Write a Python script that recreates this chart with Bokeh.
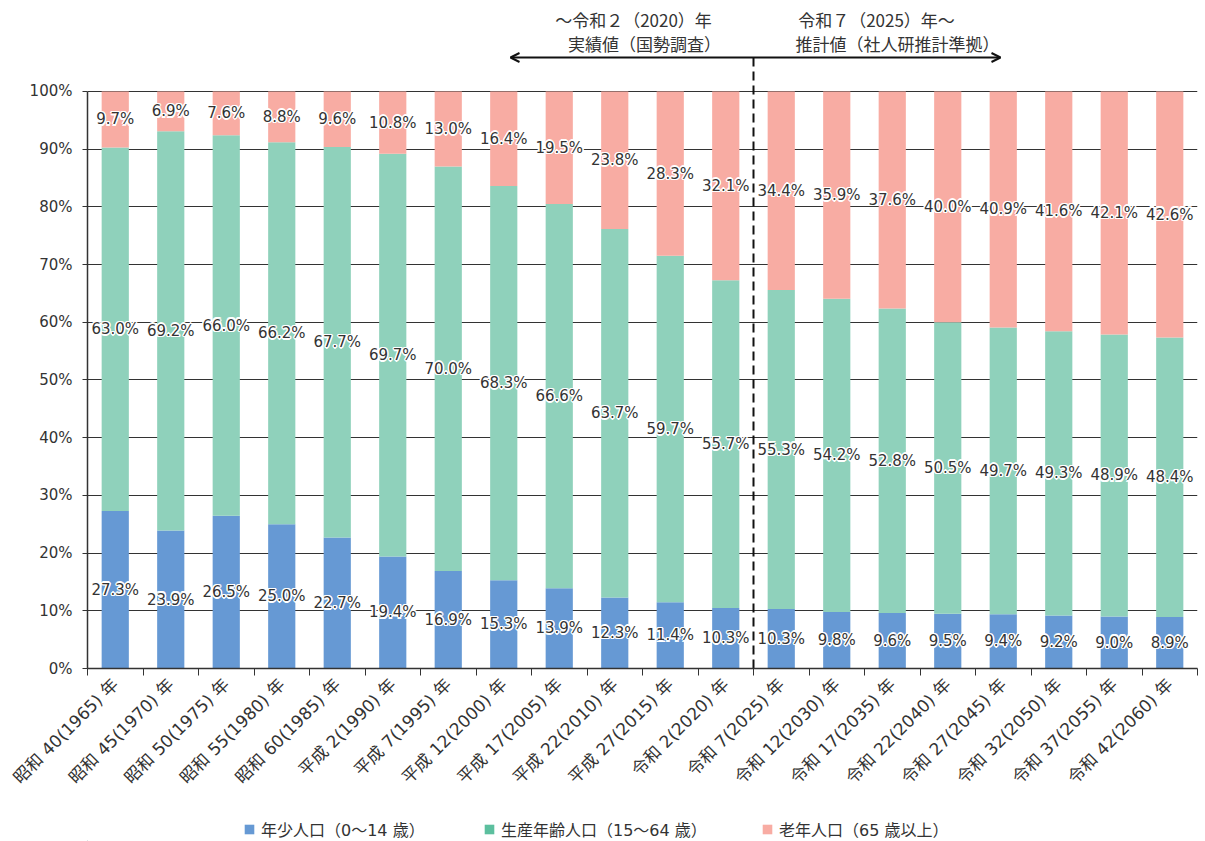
import numpy as np
from bokeh.plotting import figure
from bokeh.layouts import column
from bokeh.models import Range1d, FixedTicker, Arrow, OpenHead, Legend, LegendItem, ColumnDataSource
from bokeh.core.properties import value
from bokeh.embed import file_html
from bokeh.resources import INLINE

categories = ["昭和 40(1965) 年", "昭和 45(1970) 年", "昭和 50(1975) 年", "昭和 55(1980) 年",
              "昭和 60(1985) 年", "平成 2(1990) 年", "平成 7(1995) 年", "平成 12(2000) 年",
              "平成 17(2005) 年", "平成 22(2010) 年", "平成 27(2015) 年", "令和 2(2020) 年",
              "令和 7(2025) 年", "令和 12(2030) 年", "令和 17(2035) 年", "令和 22(2040) 年",
              "令和 27(2045) 年", "令和 32(2050) 年", "令和 37(2055) 年", "令和 42(2060) 年"]
young = [27.3, 23.9, 26.5, 25.0, 22.7, 19.4, 16.9, 15.3, 13.9, 12.3, 11.4, 10.3,
         10.3, 9.8, 9.6, 9.5, 9.4, 9.2, 9.0, 8.9]
working = [63.0, 69.2, 66.0, 66.2, 67.7, 69.7, 70.0, 68.3, 66.6, 63.7, 59.7, 55.7,
           55.3, 54.2, 52.8, 50.5, 49.7, 49.3, 48.9, 48.4]
old = [9.7, 6.9, 7.6, 8.8, 9.6, 10.8, 13.0, 16.4, 19.5, 23.8, 28.3, 32.1,
       34.4, 35.9, 37.6, 40.0, 40.9, 41.6, 42.1, 42.6]
series_names = ["年少人口（0～14 歳）", "生産年齢人口（15～64 歳）", "老年人口（65 歳以上）"]
y_ticks = [0, 10, 20, 30, 40, 50, 60, 70, 80, 90, 100]
y_tick_labels = [f"{t}%" for t in y_ticks]
note_left = ["～令和２（2020）年", "実績値（国勢調査）"]
note_right = ["令和７（2025）年～", "推計値（社人研推計準拠）"]
split_index = 12

FONT = "Noto Sans CJK JP"
MIX = "'DejaVu Sans', 'Noto Sans CJK JP'"
C_BLUE = "#6699d4"
C_GREEN = "#8fd1bb"
C_PINK = "#f8aca3"
C_GREEN_LEG = "#5cbf9e"
TXT = "#333333"

n = len(categories)
xs = np.arange(n) + 0.5
a = np.array(young)
b = np.array(working)
c = np.array(old)
tot = a + b + c
# 100% stacked: each column normalised to its total
y1 = a / tot * 100
y2 = (a + b) / tot * 100
y3 = (a + b + c) / tot * 100

MAIN_H = 800
p = figure(width=1205, height=MAIN_H, x_range=Range1d(0, n), y_range=Range1d(0, 115.77),
           output_backend="svg", toolbar_location=None,
           min_border_left=87, min_border_right=8, min_border_top=0,
           min_border_bottom=MAIN_H - 668)
p.outline_line_color = None

# grid
p.xgrid.visible = False
p.ygrid.ticker = FixedTicker(ticks=y_ticks)
p.ygrid.grid_line_color = "#333333"
p.ygrid.grid_line_width = 1.2
p.ygrid.bounds = (0, 100)

# y axis
p.yaxis.ticker = FixedTicker(ticks=y_ticks)
p.yaxis.major_label_overrides = {t: l for t, l in zip(y_ticks, y_tick_labels)}
p.yaxis.bounds = (0, 100)
p.yaxis.axis_line_color = "#333333"
p.yaxis.axis_line_width = 1.5
p.yaxis.major_tick_out = 5
p.yaxis.major_tick_in = 0
p.yaxis.major_tick_line_color = "#333333"
p.yaxis.minor_tick_line_color = None
p.yaxis.major_label_text_font = MIX
p.yaxis.major_label_text_font_size = "15px"
p.yaxis.major_label_text_color = TXT
p.yaxis.major_label_standoff = 10

# x axis
p.xaxis.ticker = FixedTicker(ticks=list(xs), minor_ticks=list(range(0, n + 1)))
p.xaxis.major_label_overrides = {float(x): t for x, t in zip(xs, categories)}
p.xaxis.major_label_orientation = np.pi / 4
p.xaxis.major_tick_line_color = None
p.xaxis.minor_tick_line_color = "#333333"
p.xaxis.minor_tick_out = 7
p.xaxis.minor_tick_in = 0
p.xaxis.axis_line_color = "#333333"
p.xaxis.axis_line_width = 1.5
p.xaxis.major_label_text_font = MIX
p.xaxis.major_label_text_font_size = "17px"
p.xaxis.major_label_text_color = TXT
p.xaxis.major_label_standoff = 6

# bars
src = ColumnDataSource(dict(x=xs, y1=y1, y2=y2, y3=y3))
W = 0.49
p.vbar(x="x", width=W, bottom=0, top="y1", source=src, fill_color=C_BLUE, line_color=None)
p.vbar(x="x", width=W, bottom="y1", top="y2", source=src, fill_color=C_GREEN, line_color=None)
p.vbar(x="x", width=W, bottom="y2", top="y3", source=src, fill_color=C_PINK, line_color=None)

# data labels with white halo
lab_x = np.concatenate([xs, xs, xs])
lab_y = np.concatenate([y1 / 2, (y1 + y2) / 2, (y2 + y3) / 2])
lab_t = [f"{v:.1f}%" for v in young] + [f"{v:.1f}%" for v in working] + [f"{v:.1f}%" for v in old]
lsrc = ColumnDataSource(dict(x=lab_x, y=lab_y, t=lab_t))
for dx, dy in [(-1.5, 0), (1.5, 0), (0, -1.5), (0, 1.5), (-1.1, -1.1), (1.1, 1.1), (-1.1, 1.1), (1.1, -1.1)]:
    p.text(x="x", y="y", text="t", source=lsrc, text_align="center", text_baseline="middle",
           text_font=value(MIX), text_font_size="15px", text_color="white",
           x_offset=dx, y_offset=dy)
p.text(x="x", y="y", text="t", source=lsrc, text_align="center", text_baseline="middle",
       text_font=value(MIX), text_font_size="15px", text_color=TXT)

# split line + arrow + notes
ppu = 577 / 100.0
arrow_y = (668 - 57) / ppu
p.segment(x0=[split_index], y0=[0], x1=[split_index], y1=[arrow_y],
          line_color="#111111", line_width=2, line_dash="9 5")
p.add_layout(Arrow(start=OpenHead(size=9, line_width=2, line_color="#111111"),
                   end=OpenHead(size=9, line_width=2, line_color="#111111"),
                   x_start=(510 - 87) / 55.5, y_start=arrow_y,
                   x_end=(1000 - 87) / 55.5, y_end=arrow_y,
                   line_width=2, line_color="#111111"))
ny1 = (668 - 19) / ppu
ny2 = (668 - 43) / ppu
p.text(x=[(633 - 87) / 55.5, (644 - 87) / 55.5], y=[ny1, ny2], text=note_left,
       text_align="center", text_baseline="middle", text_font=value(FONT),
       text_font_size="17px", text_color=TXT)
p.text(x=[(876 - 87) / 55.5, (897 - 87) / 55.5], y=[ny1, ny2], text=note_right,
       text_align="center", text_baseline="middle", text_font=value(FONT),
       text_font_size="17px", text_color=TXT)

# legend figure below
LEG_H = 841 - MAIN_H
lf = figure(width=1205, height=LEG_H, x_range=Range1d(0, 1205), y_range=Range1d(0, LEG_H),
            output_backend="svg", toolbar_location=None, min_border=0,
            x_axis_location=None, y_axis_location=None)
lf.grid.visible = False
lf.outline_line_color = None
leg_colors = [C_BLUE, C_GREEN_LEG, C_PINK]
leg_x = [156, 396, 674]
for name, col, lx in zip(series_names, leg_colors, leg_x):
    r = lf.vbar(x=[-50], width=1, bottom=[0], top=[1], fill_color=col, line_color=None)
    lg = Legend(items=[LegendItem(label=name, renderers=[r])], location=(lx, 0),
                orientation="horizontal", glyph_width=12, glyph_height=12,
                label_text_font=MIX, label_text_font_size="16px", label_text_color=TXT,
                padding=0, margin=0, spacing=0, label_standoff=6,
                background_fill_alpha=0, border_line_color=None)
    lf.add_layout(lg)

layout = column(p, lf, spacing=0)
open("out.html", "w").write(file_html(layout, INLINE))
